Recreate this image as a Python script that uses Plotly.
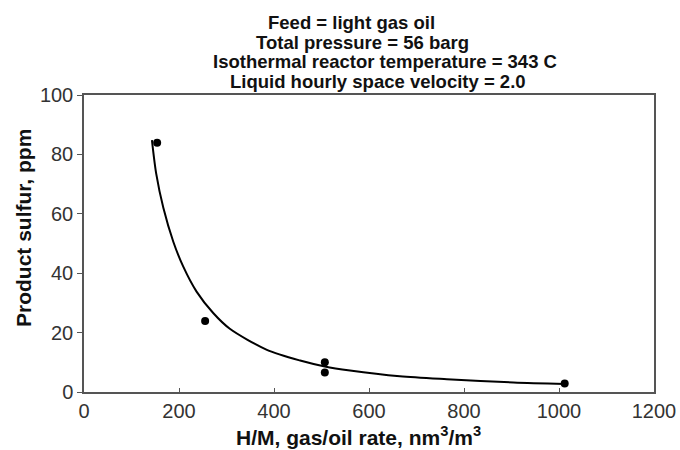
import plotly.graph_objects as go

# Measured data points
hm_rate = [154, 255, 507, 507, 1012]
sulfur = [83.9, 23.9, 10.0, 6.6, 2.9]

# Fitted trend curve
curve_x = [143, 152, 167, 188, 209, 237, 272, 307, 385, 455, 507, 560, 665, 764, 904, 1013]
curve_y = [84.8, 73.5, 62.0, 50.6, 42.2, 33.8, 26.6, 21.3, 14.2, 10.6, 8.6, 7.25, 5.3, 4.3, 3.2, 2.7]

title_lines = [
    "Feed = light gas oil",
    "Total pressure = 56 barg",
    "Isothermal reactor temperature = 343 C",
    "Liquid hourly space velocity = 2.0",
]
title_centers = [351, 362, 385, 378]

x_ticks = [0, 200, 400, 600, 800, 1000, 1200]
y_ticks = [0, 20, 40, 60, 80, 100]

FONT = "Liberation Sans, Arial, sans-serif"
L, R, T, B = 84, 26, 95, 58
W, H = 680, 450
pw, ph = W - L - R, H - T - B


def to_paper(px, py):
    return (px - L) / pw, (H - B - py) / ph


fig = go.Figure()
fig.add_trace(go.Scatter(x=curve_x, y=curve_y, mode="lines",
                         line=dict(color="black", width=2, shape="spline", smoothing=0.8),
                         hoverinfo="skip"))
fig.add_trace(go.Scatter(x=hm_rate, y=sulfur, mode="markers",
                         marker=dict(color="black", size=8)))

for i, (t, cx) in enumerate(zip(title_lines, title_centers)):
    ax_, ay_ = to_paper(cx, 22.5 + 19.5 * i)
    fig.add_annotation(text="<b>" + t + "</b>", x=ax_, y=ay_,
                       xref="paper", yref="paper", xanchor="center", yanchor="middle",
                       showarrow=False, font=dict(family=FONT, size=18.5, color="#111"))

xt_x, xt_y = to_paper(358, 436)
fig.add_annotation(text="<b>H/M, gas/oil rate, nm<sup>3</sup>/m<sup>3</sup></b>", x=xt_x, y=xt_y,
                   xref="paper", yref="paper", xanchor="center", yanchor="middle",
                   showarrow=False, font=dict(family=FONT, size=21, color="#111"))
yt_x, yt_y = to_paper(23, 228)
fig.add_annotation(text="<b>Product sulfur, ppm</b>", x=yt_x, y=yt_y, textangle=-90,
                   xref="paper", yref="paper", xanchor="center", yanchor="middle",
                   showarrow=False, font=dict(family=FONT, size=21, color="#111"))

axis_font = dict(family=FONT, size=20, color="#333")
fig.update_layout(
    width=W, height=H,
    margin=dict(l=L, r=R, t=T, b=B, autoexpand=False),
    paper_bgcolor="white", plot_bgcolor="white",
    showlegend=False,
    font=dict(family=FONT),
    xaxis=dict(range=[0, 1200], tickvals=x_ticks, ticks="inside", ticklen=4, tickcolor="#555",
               showline=True, linecolor="#555", linewidth=1.5, mirror=True, showgrid=False,
               zeroline=False, tickfont=axis_font, automargin=False),
    yaxis=dict(range=[0, 100], tickvals=y_ticks, ticks="outside", ticklen=5, tickcolor="#555",
               showline=True, linecolor="#555", linewidth=1.5, mirror=True, showgrid=False,
               zeroline=False, tickfont=axis_font, automargin=False),
)

fig.write_html("out.html", config={"displayModeBar": False},
               post_script="document.body.style.margin='0';document.body.style.overflow='hidden';")
